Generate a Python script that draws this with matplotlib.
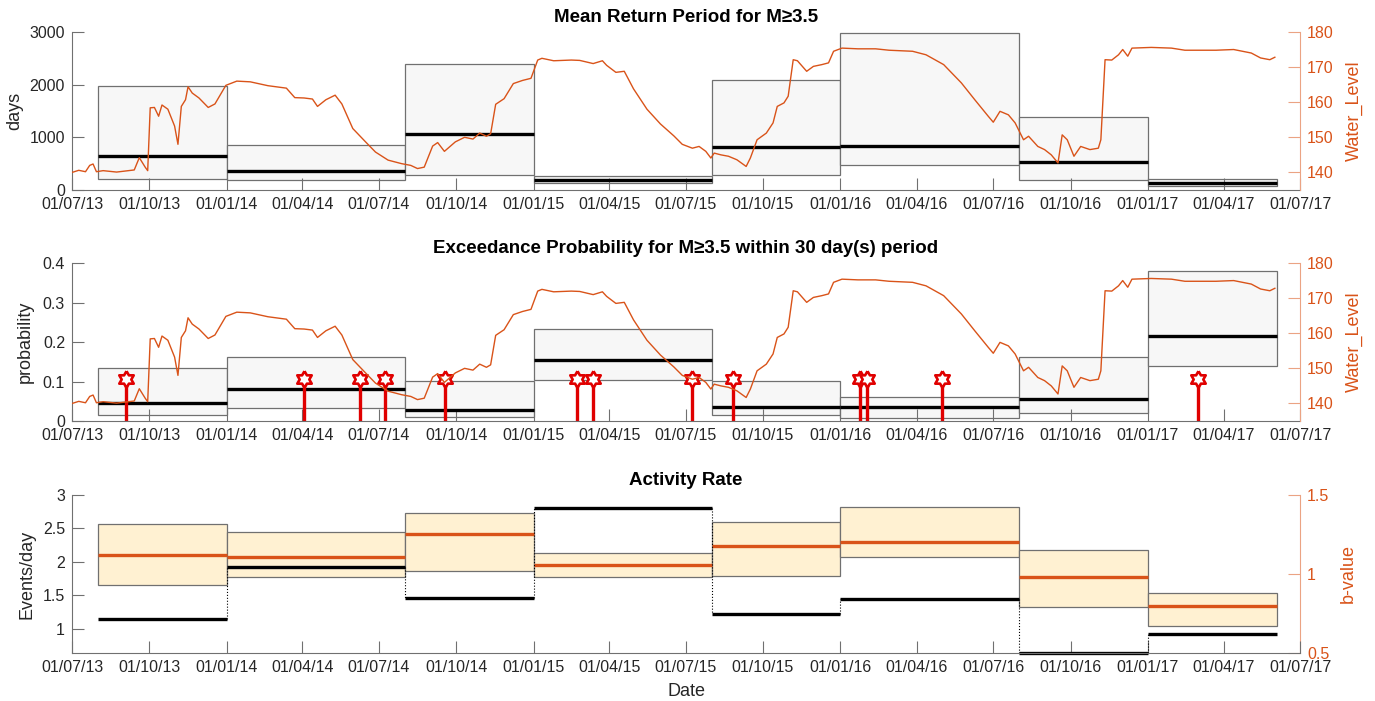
import matplotlib
matplotlib.use("Agg")
import matplotlib.pyplot as plt
import matplotlib.dates as mdates
import numpy as np
import pandas as pd

plt.rcParams['font.family'] = ['Liberation Sans', 'DejaVu Sans']

# -----------------------------------
# Data
# -----------------------------------

seg_start = ['2013-08-01', '2014-01-01', '2014-08-01', '2015-01-01',
             '2015-08-01', '2016-01-01', '2016-08-01', '2017-01-01']
seg_end = ['2014-01-01', '2014-08-01', '2015-01-01', '2015-08-01',
           '2016-01-01', '2016-08-01', '2017-01-01', '2017-06-03']

# mean return period (days)
mrp_median = [640, 360, 1060, 185, 820, 830, 530, 135]
mrp_low = [215, 180, 290, 130, 290, 480, 180, 80]
mrp_high = [1970, 860, 2390, 260, 2080, 2980, 1380, 205]

# exceedance probability
prob_median = [0.046, 0.082, 0.027, 0.155, 0.036, 0.036, 0.056, 0.216]
prob_low = [0.014, 0.034, 0.009, 0.104, 0.014, 0.008, 0.021, 0.139]
prob_high = [0.135, 0.163, 0.101, 0.232, 0.101, 0.062, 0.161, 0.380]

# events M>=3.5
event_dates = ['2013-09-03', '2014-04-03', '2014-06-09', '2014-07-08',
               '2014-09-18', '2015-02-22', '2015-03-13', '2015-07-09',
               '2015-08-26', '2016-01-25', '2016-02-02', '2016-05-01',
               '2017-03-02']
event_level = 0.107

# activity rate (events/day) and b-value
rate = [1.15, 1.93, 1.46, 2.81, 1.22, 1.44, 0.64, 0.92]
b_median = [1.120, 1.110, 1.250, 1.058, 1.174, 1.204, 0.978, 0.796]
b_low = [0.929, 0.981, 1.022, 0.981, 0.988, 1.109, 0.788, 0.671]
b_high = [1.317, 1.267, 1.384, 1.132, 1.331, 1.422, 1.149, 0.881]

# reservoir water level
water_dates = [
    '2013-07-01', '2013-07-09', '2013-07-17', '2013-07-22', '2013-07-26',
    '2013-07-30', '2013-08-07', '2013-08-23', '2013-09-13', '2013-09-19',
    '2013-09-26', '2013-09-29', '2013-10-02', '2013-10-07', '2013-10-12',
    '2013-10-16', '2013-10-23', '2013-10-31', '2013-11-04', '2013-11-08',
    '2013-11-13', '2013-11-16', '2013-11-21', '2013-11-29', '2013-12-10',
    '2013-12-18', '2013-12-31', '2014-01-13', '2014-01-29', '2014-02-19',
    '2014-03-13', '2014-03-23', '2014-04-03', '2014-04-13', '2014-04-19',
    '2014-04-29', '2014-05-10', '2014-05-18', '2014-05-31', '2014-06-16',
    '2014-06-27', '2014-07-12', '2014-07-28', '2014-08-08', '2014-08-16',
    '2014-08-24', '2014-09-03', '2014-09-09', '2014-09-17', '2014-09-30',
    '2014-10-11', '2014-10-21', '2014-10-29', '2014-11-06', '2014-11-11',
    '2014-11-17', '2014-11-27', '2014-12-08', '2014-12-19', '2014-12-29',
    '2015-01-06', '2015-01-11', '2015-01-25', '2015-02-15', '2015-02-25',
    '2015-03-13', '2015-03-24', '2015-03-29', '2015-04-09', '2015-04-19',
    '2015-04-30', '2015-05-16', '2015-06-01', '2015-06-17', '2015-06-27',
    '2015-07-09', '2015-07-17', '2015-07-25', '2015-07-31', '2015-08-04',
    '2015-08-12', '2015-08-21', '2015-08-31', '2015-09-11', '2015-09-16',
    '2015-09-24', '2015-10-05', '2015-10-13', '2015-10-18', '2015-10-26',
    '2015-10-31', '2015-11-06', '2015-11-11', '2015-11-22', '2015-11-30',
    '2015-12-10', '2015-12-18', '2015-12-24', '2016-01-03', '2016-01-22',
    '2016-02-12', '2016-02-28', '2016-03-27', '2016-04-12', '2016-05-03',
    '2016-05-24', '2016-06-09', '2016-06-25', '2016-07-01', '2016-07-09',
    '2016-07-19', '2016-07-27', '2016-08-06', '2016-08-12', '2016-08-23',
    '2016-08-31', '2016-09-08', '2016-09-16', '2016-09-21', '2016-09-27',
    '2016-10-05', '2016-10-13', '2016-10-24', '2016-11-03', '2016-11-06',
    '2016-11-11', '2016-11-19', '2016-11-27', '2016-12-02', '2016-12-08',
    '2016-12-13', '2017-01-05', '2017-01-29', '2017-02-14', '2017-03-23',
    '2017-04-13', '2017-05-04', '2017-05-15', '2017-05-26', '2017-06-01']
water_level = [
    140.0, 140.6, 140.2, 142.0, 142.4,
    140.2, 140.5, 140.1, 140.7, 144.2,
    141.5, 140.5, 158.4, 158.5, 156.0,
    159.2, 158.0, 153.2, 148.0, 158.8,
    160.7, 164.4, 162.6, 161.2, 158.5,
    159.5, 164.8, 166.0, 165.8, 164.7,
    164.0, 161.3, 161.2, 160.9, 158.8,
    160.7, 162.0, 159.5, 152.5, 148.5,
    145.8, 143.5, 142.5, 142.0, 141.1,
    141.5, 147.5, 148.5, 146.0, 148.7,
    150.0, 149.5, 151.2, 150.3, 151.0,
    159.4, 161.0, 165.3, 166.2, 166.8,
    172.0, 172.5, 171.8, 172.0, 171.9,
    171.0, 171.8, 170.5, 168.5, 168.8,
    163.8, 158.0, 153.8, 150.4, 148.0,
    146.9, 147.4, 146.0, 144.1, 145.5,
    145.0, 144.6, 143.6, 141.7, 144.1,
    149.3, 151.2, 154.1, 158.8, 159.8,
    161.7, 172.1, 171.8, 168.8, 170.2,
    170.7, 171.2, 174.5, 175.4, 175.2,
    175.2, 174.8, 174.5, 173.5, 170.7,
    165.5, 160.7, 156.0, 154.3, 157.4,
    156.4, 154.1, 149.3, 150.3, 147.4,
    146.5, 145.0, 142.7, 150.7, 149.3,
    144.6, 147.4, 146.5, 146.9, 149.3,
    172.1, 172.0, 173.5, 175.0, 173.1,
    175.4, 175.6, 175.4, 174.8, 174.8,
    175.0, 174.0, 172.6, 172.1, 172.8]

# -----------------------------------
# Helpers
# -----------------------------------

ORANGE = '#D95319'
ORANGE_LIGHT = '#EBA383'
GRAY = '#707070'

x0 = mdates.date2num(pd.to_datetime(seg_start))
x1 = mdates.date2num(pd.to_datetime(seg_end))
widths = x1 - x0

xlim = mdates.date2num(pd.to_datetime(['2013-07-01', '2017-07-01']))


def style_axes(ax, axr, ylabel, rlabel, lx, rx):
    ax.set_xlim(xlim)
    ax.xaxis.set_major_locator(mdates.MonthLocator(bymonth=[1, 4, 7, 10]))
    ax.xaxis.set_major_formatter(mdates.DateFormatter('%d/%m/%y'))
    for s in ['top', 'right']:
        ax.spines[s].set_visible(False)
    for s in ['left', 'bottom']:
        ax.spines[s].set_color(GRAY)
        ax.spines[s].set_linewidth(0.8)
    ax.tick_params(direction='in', length=8.5, width=0.8, color=GRAY,
                   labelsize=11.5, labelcolor='#262626', pad=5)
    ax.set_ylabel(ylabel, fontsize=13, color='#262626')
    ax.yaxis.set_label_coords(lx, 0.5)

    for s in ['top', 'left', 'bottom']:
        axr.spines[s].set_visible(False)
    axr.spines['right'].set_color(ORANGE_LIGHT)
    axr.spines['right'].set_linewidth(0.8)
    axr.tick_params(direction='in', length=8.5, width=0.8,
                    color=ORANGE_LIGHT, labelsize=11.5,
                    labelcolor=ORANGE, pad=5)
    axr.set_ylabel(rlabel, fontsize=13, color=ORANGE)
    axr.yaxis.set_label_coords(rx, 0.5)


fig = plt.figure(figsize=(13.75, 7.01), dpi=100)

L, W, H = 0.0524, 0.8931, 0.2254

# -----------------------------------
# Mean Return Period
# -----------------------------------

ax1 = fig.add_axes([L, 0.7290, W, H])
ax1r = ax1.twinx()

ax1.bar(x0, np.array(mrp_high) - np.array(mrp_low), width=widths,
        bottom=mrp_low, align='edge', color='#F7F7F7',
        edgecolor=GRAY, linewidth=0.9)
ax1.hlines(mrp_median, x0, x1, color='black', linewidth=2.4)
ax1.set_ylim(0, 3000)
ax1.set_yticks([0, 1000, 2000, 3000])

ax1r.plot(mdates.date2num(pd.to_datetime(water_dates)), water_level,
          color=ORANGE, linewidth=1.0)
ax1r.set_ylim(135, 180)
ax1r.set_yticks([140, 150, 160, 170, 180])

style_axes(ax1, ax1r, 'days', 'Water_Level', -0.040, 1.0375)
ax1.set_title('Mean Return Period for M\u22653.5', fontsize=13.5,
              fontweight='bold', pad=7)

# -----------------------------------
# Exceedance Probability
# -----------------------------------

ax2 = fig.add_axes([L, 0.3994, W, H])
ax2r = ax2.twinx()

ax2.bar(x0, np.array(prob_high) - np.array(prob_low), width=widths,
        bottom=prob_low, align='edge', color='#F7F7F7',
        edgecolor=GRAY, linewidth=0.9)
ax2.hlines(prob_median, x0, x1, color='black', linewidth=2.4)

ev = mdates.date2num(pd.to_datetime(event_dates))
ax2.vlines(ev, 0, event_level, color='#E00000', linewidth=2.4)

# six-pointed star marker
ang_out = np.deg2rad(90 + 60 * np.arange(6))
ang_in = ang_out + np.deg2rad(30)
hexagram = []
for a, b in zip(ang_out, ang_in):
    hexagram.append((np.cos(a), np.sin(a)))
    hexagram.append((np.cos(b) / np.sqrt(3), np.sin(b) / np.sqrt(3)))
hexagram.append(hexagram[0])
ax2.plot(ev, [event_level] * len(ev), linestyle='none', marker=hexagram,
         markersize=12, markerfacecolor='white', markeredgecolor='#E00000',
         markeredgewidth=1.9)

ax2.set_ylim(0, 0.4)
ax2.set_yticks([0, 0.1, 0.2, 0.3, 0.4])
ax2.set_yticklabels(['0', '0.1', '0.2', '0.3', '0.4'])

ax2r.plot(mdates.date2num(pd.to_datetime(water_dates)), water_level,
          color=ORANGE, linewidth=1.0)
ax2r.set_ylim(135, 180)
ax2r.set_yticks([140, 150, 160, 170, 180])

style_axes(ax2, ax2r, 'probability', 'Water_Level', -0.031, 1.0375)
ax2.set_title('Exceedance Probability for M\u22653.5 within 30 day(s) period',
              fontsize=13.5, fontweight='bold', pad=7)

# -----------------------------------
# Activity Rate
# -----------------------------------

ax3 = fig.add_axes([L, 0.0685, W, H])
ax3r = ax3.twinx()

ax3r.bar(x0, np.array(b_high) - np.array(b_low), width=widths,
         bottom=b_low, align='edge', color='#FFF1D2',
         edgecolor=GRAY, linewidth=0.9)
ax3r.hlines(b_median, x0, x1, color=ORANGE, linewidth=2.4)
ax3r.set_ylim(0.5, 1.5)
ax3r.set_yticks([0.5, 1, 1.5])
ax3r.set_yticklabels(['0.5', '1', '1.5'])

# activity rate on top of the b-value boxes
ax3.set_zorder(ax3r.get_zorder() + 1)
ax3.patch.set_visible(False)
ax3.hlines(rate, x0, x1, color='black', linewidth=2.4, clip_on=False)
for i in range(len(rate) - 1):
    if seg_end[i] == seg_start[i + 1]:
        ax3.vlines(x1[i], rate[i], rate[i + 1], color='black',
                   linewidth=0.8, linestyles=':')
ax3.set_ylim(0.64, 3)
ax3.set_yticks([1, 1.5, 2, 2.5, 3])
ax3.set_yticklabels(['1', '1.5', '2', '2.5', '3'])

style_axes(ax3, ax3r, 'Events/day', 'b-value', -0.030, 1.0326)
ax3.set_title('Activity Rate', fontsize=13.5, fontweight='bold', pad=7)
ax3.set_xlabel('Date', fontsize=13, color='#262626')
ax3.xaxis.set_label_coords(0.5, -0.19)

fig.savefig('out.png', dpi=100)
